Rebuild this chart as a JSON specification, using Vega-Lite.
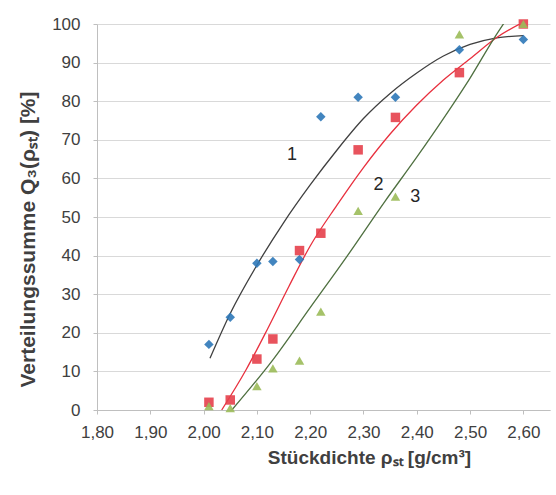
{
  "$schema": "https://vega.github.io/schema/vega-lite/v6.json",
  "autosize": {"type": "none"},
  "width": 453,
  "height": 386,
  "padding": {"left": 97, "top": 24, "right": 6, "bottom": 85},
  "background": "white",
  "datasets": {
    "points": [
      {"s": "A", "x": 2.01, "y": 17},
      {"s": "A", "x": 2.05, "y": 24},
      {"s": "A", "x": 2.10, "y": 38},
      {"s": "A", "x": 2.13, "y": 38.5},
      {"s": "A", "x": 2.18, "y": 39},
      {"s": "A", "x": 2.22, "y": 76},
      {"s": "A", "x": 2.29, "y": 81},
      {"s": "A", "x": 2.36, "y": 81},
      {"s": "A", "x": 2.48, "y": 93.3},
      {"s": "A", "x": 2.60, "y": 96},
      {"s": "B", "x": 2.01, "y": 2},
      {"s": "B", "x": 2.05, "y": 2.6},
      {"s": "B", "x": 2.10, "y": 13.2},
      {"s": "B", "x": 2.13, "y": 18.4},
      {"s": "B", "x": 2.18, "y": 41.3},
      {"s": "B", "x": 2.22, "y": 45.8},
      {"s": "B", "x": 2.29, "y": 67.4},
      {"s": "B", "x": 2.36, "y": 75.8},
      {"s": "B", "x": 2.48, "y": 87.4},
      {"s": "B", "x": 2.60, "y": 100},
      {"s": "C", "x": 2.01, "y": 1},
      {"s": "C", "x": 2.05, "y": 0.5},
      {"s": "C", "x": 2.10, "y": 6.2},
      {"s": "C", "x": 2.13, "y": 10.8},
      {"s": "C", "x": 2.18, "y": 12.8},
      {"s": "C", "x": 2.22, "y": 25.5},
      {"s": "C", "x": 2.29, "y": 51.6},
      {"s": "C", "x": 2.36, "y": 55.3},
      {"s": "C", "x": 2.48, "y": 97.3},
      {"s": "C", "x": 2.60, "y": 100}
    ],
    "curves": [
      {"c": "1", "x": 2.012, "y": 13.4},
      {"c": "1", "x": 2.05, "y": 25},
      {"c": "1", "x": 2.10, "y": 37.5},
      {"c": "1", "x": 2.15, "y": 48.5},
      {"c": "1", "x": 2.20, "y": 58.3},
      {"c": "1", "x": 2.25, "y": 67.3},
      {"c": "1", "x": 2.30, "y": 75.5},
      {"c": "1", "x": 2.35, "y": 82},
      {"c": "1", "x": 2.40, "y": 87.3},
      {"c": "1", "x": 2.45, "y": 91.7},
      {"c": "1", "x": 2.50, "y": 94.7},
      {"c": "1", "x": 2.55, "y": 96.4},
      {"c": "1", "x": 2.60, "y": 97},
      {"c": "2", "x": 2.034, "y": 0},
      {"c": "2", "x": 2.08, "y": 10.5},
      {"c": "2", "x": 2.12, "y": 21},
      {"c": "2", "x": 2.16, "y": 32},
      {"c": "2", "x": 2.20, "y": 42.5},
      {"c": "2", "x": 2.25, "y": 53},
      {"c": "2", "x": 2.30, "y": 62.8},
      {"c": "2", "x": 2.35, "y": 71.5},
      {"c": "2", "x": 2.40, "y": 79},
      {"c": "2", "x": 2.45, "y": 85.5},
      {"c": "2", "x": 2.50, "y": 91},
      {"c": "2", "x": 2.55, "y": 96.5},
      {"c": "2", "x": 2.60, "y": 100.5},
      {"c": "3", "x": 2.053, "y": 0},
      {"c": "3", "x": 2.13, "y": 13},
      {"c": "3", "x": 2.20, "y": 26.5},
      {"c": "3", "x": 2.27, "y": 40},
      {"c": "3", "x": 2.34, "y": 54},
      {"c": "3", "x": 2.40, "y": 65.5},
      {"c": "3", "x": 2.45, "y": 75.5},
      {"c": "3", "x": 2.50, "y": 86},
      {"c": "3", "x": 2.545, "y": 96.3},
      {"c": "3", "x": 2.565, "y": 100.5}
    ],
    "labels": [
      {"t": "1", "x": 2.166, "y": 66},
      {"t": "2", "x": 2.328, "y": 58.3},
      {"t": "3", "x": 2.397, "y": 55.3}
    ]
  },
  "encoding": {
    "x": {
      "field": "x", "type": "quantitative",
      "scale": {"domain": [1.8, 2.65], "nice": false, "zero": false},
      "axis": {
        "values": [1.8, 1.9, 2.0, 2.1, 2.2, 2.3, 2.4, 2.5, 2.6],
        "labelExpr": "replace(format(datum.value, '.2f'), '.', ',')",
        "title": "Stückdichte ρₛₜ [g/cm³]",
        "titleX": 272,
        "titleAlign": "center",
        "titleFontSize": 19,
        "grid": false,
        "domainColor": "#bfbfbf",
        "tickColor": "#bfbfbf",
        "tickSize": 4,
        "labelPadding": 10,
        "titlePadding": 8,
        "labelOverlap": false,
        "labelFlush": false
      }
    },
    "y": {
      "field": "y", "type": "quantitative",
      "scale": {"domain": [0, 100], "nice": false},
      "axis": {
        "values": [0, 10, 20, 30, 40, 50, 60, 70, 80, 90, 100],
        "title": "Verteilungssumme Q₃(ρₛₜ) [%]",
        "titleFontSize": 21,
        "titleY": 215,
        "titleX": -69,
        "titleBaseline": "middle",
        "grid": true,
        "gridColor": "#d9d9d9",
        "domainColor": "#bfbfbf",
        "tickColor": "#bfbfbf",
        "tickSize": 4,
        "labelPadding": 13,
        "titlePadding": 10,
        "labelOverlap": false,
        "labelFlush": false
      }
    }
  },
  "layer": [
    {
      "data": {"name": "curves"},
      "mark": {"type": "line", "strokeWidth": 1.3, "interpolate": "monotone", "clip": true},
      "encoding": {
        "detail": {"field": "c"},
        "color": {"field": "c", "type": "nominal", "scale": {"domain": ["1", "2", "3"], "range": ["#404040", "#e8303e", "#4f7040"]}, "legend": null}
      }
    },
    {
      "data": {"name": "points"},
      "mark": {"type": "point", "filled": true, "opacity": 0.9},
      "encoding": {
        "shape": {"field": "s", "type": "nominal", "scale": {"domain": ["A", "B", "C"], "range": ["diamond", "square", "triangle-up"]}, "legend": null},
        "color": {"field": "s", "type": "nominal", "scale": {"domain": ["A", "B", "C"], "range": ["#2e78b8", "#e5404b", "#9bbb59"]}, "legend": null},
        "size": {"field": "s", "type": "nominal", "scale": {"domain": ["A", "B", "C"], "range": [90, 90, 85]}, "legend": null}
      }
    },
    {
      "data": {"name": "labels"},
      "mark": {"type": "text", "fontSize": 18, "font": "Liberation Sans", "color": "#262626"},
      "encoding": {
        "text": {"field": "t"}
      }
    }
  ],
  "resolve": {"scale": {"color": "independent"}},
  "config": {
    "view": {"stroke": null},
    "font": "Liberation Sans",
    "axis": {
      "labelFont": "Liberation Sans",
      "labelFontSize": 17,
      "labelColor": "#404040",
      "titleFont": "Liberation Sans",
      "titleFontSize": 19,
      "titleFontWeight": "bold",
      "titleColor": "#404040"
    }
  }
}
